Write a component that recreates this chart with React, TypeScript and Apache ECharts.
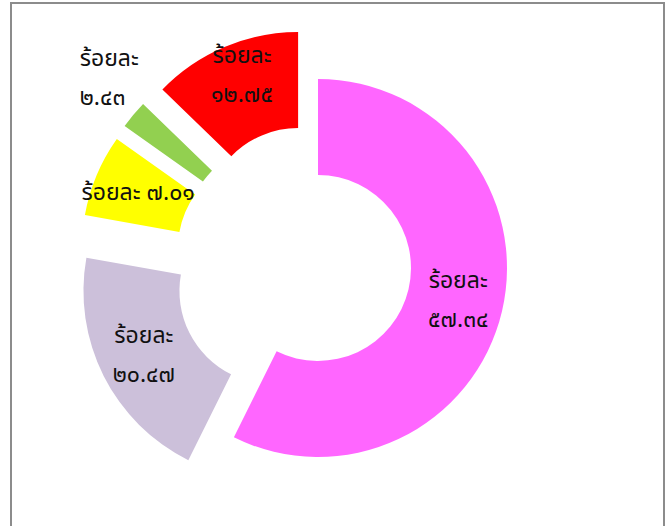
import React, { useEffect, useRef } from "react";
import * as echarts from "echarts";

const categories = ["A", "B", "C", "D", "E"];
const values = [57.34, 20.47, 7.01, 2.43, 12.75];
const colors = ["#FF66FF", "#CCC0DA", "#FFFF00", "#92D050", "#FF0000"];
const exploded = [false, true, true, true, true];
const separators = ["\n", "\n", " ", "\n", "\n"];
const trailing = ["", "", "", "", "\n{gap| }"];
const labelPositions = ["inside", "inside", "inside", "outside", "inside"];

const thaiDigits = ["๐", "๑", "๒", "๓", "๔", "๕", "๖", "๗", "๘", "๙"];
const toThai = (v: number) =>
  v.toFixed(2).replace(/[0-9]/g, (d) => thaiDigits[Number(d)]);

export default function App() {
  const ref = useRef<HTMLDivElement>(null);
  useEffect(() => {
    if (!ref.current) return;
    const chart = echarts.init(ref.current, undefined, { renderer: "svg" });
    const data = values.map((v, i) => ({
      name: categories[i],
      value: v,
      selected: exploded[i],
      itemStyle: { color: colors[i] },
      label: {
        formatter: "ร้อยละ" + separators[i] + toThai(v) + trailing[i],
        position: labelPositions[i],
        ...(i === 3 ? { alignTo: "edge", edgeDistance: 119 } : {}),
      },
      labelLine: i === 3 ? { show: false, length: 56, length2: 10 } : undefined,
    }));
    chart.setOption({
      animation: false,
      backgroundColor: "#ffffff",
      graphic: [
        {
          type: "rect",
          shape: { x: 11, y: 3, width: 653, height: 560 },
          style: { fill: "none", stroke: "#8c8c8c", lineWidth: 2 },
          silent: true,
          z: 0,
        },
      ],
      series: [
        {
          type: "pie",
          center: [318, 268],
          radius: [93, 189],
          startAngle: 90,
          clockwise: true,
          selectedMode: "multiple",
          selectedOffset: 51,
          avoidLabelOverlap: false,
          emphasis: { disabled: true },
          label: {
            show: true,
            color: "#111111",
            fontSize: 23,
            lineHeight: 39,
            fontFamily: "'Noto Sans Thai', 'Noto Sans', sans-serif",
            rich: { gap: { fontSize: 10, lineHeight: 26 } },
          },
          labelLine: { show: false },
          itemStyle: { borderWidth: 0 },
          data,
        },
      ],
    });
    return () => chart.dispose();
  }, []);
  return (
    <div
      ref={ref}
      style={{ position: "fixed", left: 0, top: 0, width: 672, height: 526 }}
    />
  );
}
